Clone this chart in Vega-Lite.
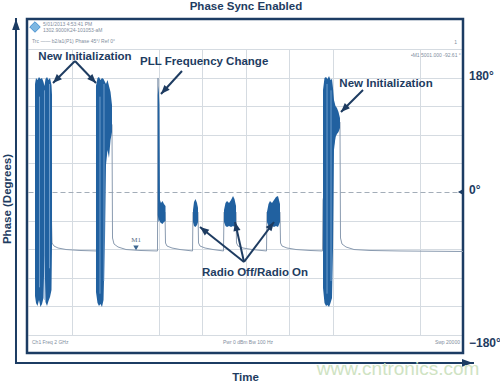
{
  "$schema": "https://vega.github.io/schema/vega-lite/v6.json",
  "autosize": {"type": "none"},
  "width": 435,
  "height": 286,
  "padding": {"left": 28, "top": 49, "right": 37, "bottom": 49},
  "background": "white",
  "view": {"stroke": null},
  "config": {"text": {"font": "Liberation Sans"}},
  "datasets": {
    "frame": [{"t": -0.023, "t2": 10.0, "v": 272.2, "v2": -253.3}],
    "trace": [
      {"t": 0.161, "v": -12.6}, {"t": 0.529, "v": -12.6}, {"t": 0.552, "v": -80.2}, {"t": 0.598, "v": -85.0},
      {"t": 0.690, "v": -88.1}, {"t": 0.874, "v": -90.5}, {"t": 1.195, "v": -92.0}, {"t": 1.586, "v": -92.8},
      {"t": 1.609, "v": -12.6}, {"t": 1.885, "v": 113.3}, {"t": 1.931, "v": 105.4}, {"t": 1.943, "v": -72.4},
      {"t": 1.977, "v": -81.8}, {"t": 2.069, "v": -86.5}, {"t": 2.253, "v": -90.5}, {"t": 2.575, "v": -92.0},
      {"t": 2.977, "v": -92.8}, {"t": 2.989, "v": 179.4}, {"t": 3.0, "v": -12.6}, {"t": 3.034, "v": -31.5},
      {"t": 3.149, "v": -31.5}, {"t": 3.161, "v": -80.2}, {"t": 3.195, "v": -85.0}, {"t": 3.310, "v": -88.1},
      {"t": 3.494, "v": -90.5}, {"t": 3.782, "v": -92.8}, {"t": 3.793, "v": -31.5}, {"t": 3.908, "v": -31.5},
      {"t": 3.920, "v": -80.2}, {"t": 3.954, "v": -85.0}, {"t": 4.069, "v": -88.1}, {"t": 4.253, "v": -90.5},
      {"t": 4.494, "v": -92.8}, {"t": 4.506, "v": -31.5}, {"t": 4.782, "v": -31.5}, {"t": 4.793, "v": -80.2},
      {"t": 4.828, "v": -85.0}, {"t": 4.943, "v": -88.1}, {"t": 5.149, "v": -90.5}, {"t": 5.483, "v": -92.8},
      {"t": 5.494, "v": -31.5}, {"t": 5.793, "v": -31.5}, {"t": 5.805, "v": -80.2}, {"t": 5.839, "v": -85.0},
      {"t": 5.954, "v": -88.1}, {"t": 6.161, "v": -90.5}, {"t": 6.483, "v": -92.0}, {"t": 6.770, "v": -92.8},
      {"t": 6.782, "v": -12.6}, {"t": 7.126, "v": 110.1}, {"t": 7.172, "v": 110.1}, {"t": 7.184, "v": -72.4},
      {"t": 7.218, "v": -81.8}, {"t": 7.310, "v": -86.5}, {"t": 7.494, "v": -90.5}, {"t": 7.862, "v": -92.0},
      {"t": 8.552, "v": -92.8}, {"t": 10.0, "v": -93.6}
    ],
    "bursts": [
      {"b": "init1", "t": 0.161, "v": 169.9, "lo": -163.6}, {"b": "init1", "t": 0.184, "v": 179.4, "lo": -174.6},
      {"b": "init1", "t": 0.218, "v": 176.2, "lo": -179.4}, {"b": "init1", "t": 0.253, "v": 180.9, "lo": -169.9},
      {"b": "init1", "t": 0.287, "v": 177.8, "lo": -181.0}, {"b": "init1", "t": 0.322, "v": 179.4, "lo": -176.2},
      {"b": "init1", "t": 0.356, "v": 173.1, "lo": -166.8}, {"b": "init1", "t": 0.379, "v": 166.8, "lo": -99.1},
      {"b": "init1", "t": 0.402, "v": 177.8, "lo": -173.1}, {"b": "init1", "t": 0.437, "v": 180.9, "lo": -179.4},
      {"b": "init1", "t": 0.471, "v": 176.2, "lo": -171.5}, {"b": "init1", "t": 0.506, "v": 179.4, "lo": -165.2},
      {"b": "init1", "t": 0.540, "v": 168.4, "lo": -154.2}, {"b": "init1", "t": 0.552, "v": 152.6, "lo": -83.4},
      {"b": "init2", "t": 1.563, "v": 166.8, "lo": -157.3}, {"b": "init2", "t": 1.598, "v": 179.4, "lo": -174.6},
      {"b": "init2", "t": 1.632, "v": 180.9, "lo": -179.4}, {"b": "init2", "t": 1.667, "v": 176.2, "lo": -176.2},
      {"b": "init2", "t": 1.701, "v": 179.4, "lo": -181.0}, {"b": "init2", "t": 1.736, "v": 177.8, "lo": -169.9},
      {"b": "init2", "t": 1.770, "v": 173.1, "lo": -75.5}, {"b": "init2", "t": 1.793, "v": 169.9, "lo": 42.5},
      {"b": "init2", "t": 1.828, "v": 176.2, "lo": 66.1}, {"b": "init2", "t": 1.862, "v": 166.8, "lo": 53.5},
      {"b": "init2", "t": 1.897, "v": 157.3, "lo": 81.8}, {"b": "init2", "t": 1.931, "v": 136.9, "lo": 94.4},
      {"b": "pll", "t": 2.984, "v": 152.6, "lo": -36.2}, {"b": "pll", "t": 3.002, "v": 166.8, "lo": -47.2},
      {"b": "pll", "t": 3.021, "v": 136.9, "lo": -44.1}, {"b": "pll", "t": 3.034, "v": -12.6, "lo": -47.2},
      {"b": "pll", "t": 3.057, "v": -17.3, "lo": -48.8}, {"b": "pll", "t": 3.092, "v": -14.2, "lo": -50.3},
      {"b": "pll", "t": 3.126, "v": -18.9, "lo": -47.2}, {"b": "pll", "t": 3.161, "v": -22.0, "lo": -45.6},
      {"b": "r1", "t": 3.793, "v": -28.3, "lo": -47.2}, {"b": "r1", "t": 3.816, "v": -15.7, "lo": -53.5},
      {"b": "r1", "t": 3.851, "v": -11.0, "lo": -55.1}, {"b": "r1", "t": 3.885, "v": -17.3, "lo": -51.9},
      {"b": "r1", "t": 3.908, "v": -25.2, "lo": -47.2},
      {"b": "r2", "t": 4.506, "v": -28.3, "lo": -47.2}, {"b": "r2", "t": 4.540, "v": -17.3, "lo": -53.5},
      {"b": "r2", "t": 4.575, "v": -14.2, "lo": -55.1}, {"b": "r2", "t": 4.621, "v": -17.3, "lo": -53.5},
      {"b": "r2", "t": 4.667, "v": -12.6, "lo": -55.1}, {"b": "r2", "t": 4.713, "v": -6.3, "lo": -53.5},
      {"b": "r2", "t": 4.747, "v": -11.0, "lo": -55.1}, {"b": "r2", "t": 4.782, "v": -22.0, "lo": -48.8},
      {"b": "r3", "t": 5.494, "v": -31.5, "lo": -47.2}, {"b": "r3", "t": 5.529, "v": -18.9, "lo": -53.5},
      {"b": "r3", "t": 5.563, "v": -14.2, "lo": -55.1}, {"b": "r3", "t": 5.609, "v": -17.3, "lo": -53.5},
      {"b": "r3", "t": 5.655, "v": -12.6, "lo": -55.1}, {"b": "r3", "t": 5.701, "v": -7.9, "lo": -53.5},
      {"b": "r3", "t": 5.747, "v": -6.3, "lo": -55.1}, {"b": "r3", "t": 5.793, "v": -18.9, "lo": -47.2},
      {"b": "init3", "t": 6.782, "v": 160.5, "lo": -151.0}, {"b": "init3", "t": 6.816, "v": 179.4, "lo": -174.6},
      {"b": "init3", "t": 6.851, "v": 180.9, "lo": -179.4}, {"b": "init3", "t": 6.885, "v": 177.8, "lo": -177.8},
      {"b": "init3", "t": 6.920, "v": 182.5, "lo": -181.0}, {"b": "init3", "t": 6.954, "v": 176.2, "lo": -174.6},
      {"b": "init3", "t": 6.989, "v": 177.8, "lo": -166.8}, {"b": "init3", "t": 7.011, "v": 163.6, "lo": -91.2},
      {"b": "init3", "t": 7.034, "v": 144.8, "lo": 66.1}, {"b": "init3", "t": 7.069, "v": 135.3, "lo": 86.5},
      {"b": "init3", "t": 7.103, "v": 132.2, "lo": 91.3}, {"b": "init3", "t": 7.138, "v": 125.9, "lo": 94.4},
      {"b": "init3", "t": 7.172, "v": 116.4, "lo": 100.7}
    ],
    "streaks": [
      {"t": 0.264, "v": 150, "v2": -150}, {"t": 0.379, "v": 160, "v2": -170}, {"t": 0.494, "v": 170, "v2": -120},
      {"t": 1.655, "v": 150, "v2": -160}, {"t": 1.747, "v": 170, "v2": -140},
      {"t": 6.874, "v": 170, "v2": -160}, {"t": 6.966, "v": 160, "v2": -140}
    ],
    "annArrows": [
      {"t0": 1.080, "v0": 206.1, "t": 0.575, "v": 171.5},
      {"t0": 1.080, "v0": 206.1, "t": 1.563, "v": 171.5},
      {"t0": 3.540, "v0": 190.4, "t": 3.057, "v": 154.2},
      {"t0": 7.701, "v0": 160.5, "t": 7.195, "v": 125.9},
      {"t0": 4.966, "v0": -110.1, "t": 3.954, "v": -55.1},
      {"t0": 4.966, "v0": -110.1, "t": 4.759, "v": -47.2},
      {"t0": 4.966, "v0": -110.1, "t": 5.655, "v": -47.2}
    ],
    "axisArrows": [
      {"t0": -0.276, "v0": -269.0, "t": -0.276, "v": 272.2},
      {"t0": -0.276, "v0": -269.0, "t": 10.23, "v": -269.0}
    ],
    "boldCenter": [
      {"t": 5.01, "v": 291.0, "label": "Phase Sync Enabled"},
      {"t": 1.31, "v": 212.4, "label": "New Initialization"},
      {"t": 4.05, "v": 204.5, "label": "PLL Frequency Change"},
      {"t": 8.23, "v": 169.9, "label": "New Initialization"},
      {"t": 5.22, "v": -127.4, "label": "Radio Off/Radio On"},
      {"t": 5.0, "v": -292.6, "label": "Time"}
    ],
    "boldLeft": [
      {"t": 10.138, "v": 182.5, "label": "180°"},
      {"t": 10.138, "v": 3.1, "label": "0°"},
      {"t": 10.138, "v": -237.6, "label": "−180°"}
    ],
    "yTitle": [{"t": -0.46, "v": -11.0, "label": "Phase (Degrees)"}],
    "watermark": [{"t": 8.506, "v": -278.5, "label": "www.cntronics.com"}],
    "smallLeft": [
      {"t": 0.345, "v": 264.3, "label": "5/01/2013 4:53:41 PM"},
      {"t": 0.345, "v": 255.0, "label": "1302.9000K24-101053-aM"},
      {"t": 0.092, "v": 237.6, "label": "Trc  ——  b2/a1(P1)  Phase  45°/  Ref 0°"},
      {"t": 0.092, "v": -236.0, "label": "Ch1  Freq  2 GHz"},
      {"t": 4.483, "v": -236.0, "label": "Pwr  0 dBm  Bw  100 Hz"}
    ],
    "smallRight": [
      {"t": 9.86, "v": 236.0, "label": "1"},
      {"t": 9.95, "v": 215.6, "label": "•M1  5001.000  -92.61 °"},
      {"t": 9.93, "v": -236.0, "label": "Swp  20000"}
    ],
    "icon": [{"t": 0.161, "v": 259.6}],
    "marker": [{"t": 2.483, "v": -88.0}],
    "markerLabel": [{"t": 2.483, "v": -75.5, "label": "M1"}],
    "refMarker": [{"t": 9.95, "v": 0}]
  },
  "encoding": {
    "x": {"field": "t", "type": "quantitative", "scale": {"domain": [0, 10], "nice": false, "zero": false},
      "axis": {"values": [1, 3, 4, 5, 6, 7, 9], "grid": true, "gridColor": "#d5dbe1", "labels": false, "ticks": false, "domain": false, "title": null}},
    "y": {"field": "v", "type": "quantitative", "scale": {"domain": [-225, 225], "nice": false, "zero": false},
      "axis": {"values": [-225, -180, -135, -90, -45, 0, 45, 90, 135, 180, 225], "grid": true,
        "gridColor": {"condition": {"test": "datum.value === 0", "value": "#a3adb8"}, "value": "#d5dbe1"},
        "gridDash": {"condition": {"test": "datum.value === 0", "value": [5, 3]}, "value": []},
        "labels": false, "ticks": false, "domain": false, "title": null}}
  },
  "layer": [
    {
      "data": {"name": "frame"},
      "mark": {"type": "rect", "fillOpacity": 0, "stroke": "#1c3c63", "strokeWidth": 2.5},
      "encoding": {"x2": {"field": "t2"}, "y2": {"field": "v2"}}
    },
    {
      "data": {"name": "trace"},
      "mark": {"type": "line", "color": "#8a9bb0", "strokeWidth": 1}
    },
    {
      "data": {"name": "bursts"},
      "mark": {"type": "area", "color": "#2161a0", "opacity": 1},
      "encoding": {"y2": {"field": "lo"}, "detail": {"field": "b", "type": "nominal"}}
    },
    {
      "data": {"name": "streaks"},
      "mark": {"type": "rule", "color": "#8db4db", "strokeWidth": 1, "opacity": 0.7},
      "encoding": {"y2": {"field": "v2"}}
    },
    {
      "data": {"name": "annArrows"},
      "mark": {"type": "rule", "color": "#1e3c61", "strokeWidth": 2},
      "encoding": {"x2": {"field": "t0"}, "y2": {"field": "v0"}}
    },
    {
      "data": {"name": "annArrows"},
      "transform": [{"calculate": "atan2((datum.t - datum.t0) * 43.5, (datum.v - datum.v0) * 0.63556) * 180 / PI", "as": "ang"}],
      "mark": {"type": "point", "shape": "M0,0L0.8,2L-0.8,2Z", "filled": true, "color": "#1e3c61", "opacity": 1, "size": 81},
      "encoding": {"angle": {"field": "ang", "type": "quantitative", "scale": null}}
    },
    {
      "data": {"name": "axisArrows"},
      "mark": {"type": "rule", "color": "#1c3c63", "strokeWidth": 2, "strokeCap": "square"},
      "encoding": {"x2": {"field": "t0"}, "y2": {"field": "v0"}}
    },
    {
      "data": {"name": "axisArrows"},
      "transform": [{"calculate": "atan2((datum.t - datum.t0) * 43.5, (datum.v - datum.v0) * 0.63556) * 180 / PI", "as": "ang"}],
      "mark": {"type": "point", "shape": "M0,0L0.7,2L-0.7,2Z", "filled": true, "color": "#1c3c63", "opacity": 1, "size": 121},
      "encoding": {"angle": {"field": "ang", "type": "quantitative", "scale": null}}
    },
    {
      "data": {"name": "boldCenter"},
      "mark": {"type": "text", "align": "center", "baseline": "middle", "fontWeight": "bold", "fontSize": 11.5, "color": "#1e3c61"},
      "encoding": {"text": {"field": "label"}}
    },
    {
      "data": {"name": "boldLeft"},
      "mark": {"type": "text", "align": "left", "baseline": "middle", "fontWeight": "bold", "fontSize": 12, "color": "#1e3c61"},
      "encoding": {"text": {"field": "label"}}
    },
    {
      "data": {"name": "yTitle"},
      "mark": {"type": "text", "align": "center", "baseline": "middle", "fontWeight": "bold", "fontSize": 11.5, "angle": 270, "color": "#1e3c61"},
      "encoding": {"text": {"field": "label"}}
    },
    {
      "data": {"name": "watermark"},
      "mark": {"type": "text", "align": "center", "baseline": "middle", "fontSize": 19, "color": "#cfe3c3"},
      "encoding": {"text": {"field": "label"}}
    },
    {
      "data": {"name": "smallLeft"},
      "mark": {"type": "text", "align": "left", "baseline": "middle", "fontSize": 5, "color": "#7f8e9e"},
      "encoding": {"text": {"field": "label"}}
    },
    {
      "data": {"name": "smallRight"},
      "mark": {"type": "text", "align": "right", "baseline": "middle", "fontSize": 5, "color": "#7f8e9e"},
      "encoding": {"text": {"field": "label"}}
    },
    {
      "data": {"name": "icon"},
      "mark": {"type": "point", "shape": "diamond", "filled": true, "color": "#7db7e2", "opacity": 1, "size": 110, "stroke": "#4a93d0", "strokeWidth": 1}
    },
    {
      "data": {"name": "marker"},
      "mark": {"type": "point", "shape": "triangle-down", "filled": true, "color": "#3d6690", "opacity": 1, "size": 30}
    },
    {
      "data": {"name": "markerLabel"},
      "mark": {"type": "text", "align": "center", "baseline": "middle", "fontSize": 7, "font": "Liberation Serif", "color": "#5a6f85"},
      "encoding": {"text": {"field": "label"}}
    },
    {
      "data": {"name": "refMarker"},
      "mark": {"type": "point", "shape": "triangle-left", "filled": true, "color": "#1c3c63", "opacity": 1, "size": 45}
    }
  ]
}
